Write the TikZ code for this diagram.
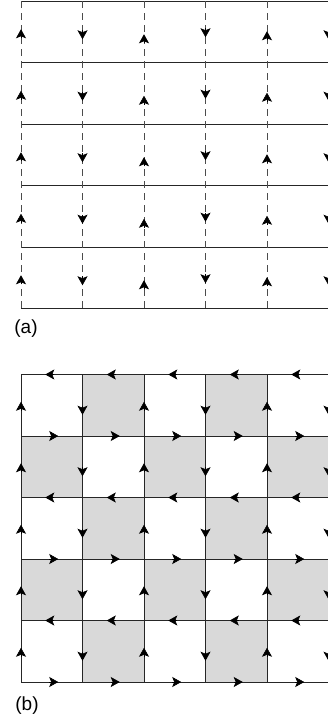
\documentclass[tikz,border=0pt]{standalone}
\usepackage{fontspec}
\setmainfont{Liberation Sans}
\usetikzlibrary{arrows.meta}
\definecolor{cellgray}{RGB}{217,217,217}
\begin{document}
\begin{tikzpicture}[x=1pt,y=-1pt,
  gridline/.style={line width=0.9pt, draw=black!85},
  dashline/.style={line width=0.9pt, draw=black!70, dash pattern=on 7pt off 5pt},
  head/.style={-{Stealth[length=9pt,width=10pt,inset=2pt]}, line width=0.6pt, black},
  lab/.style={font=\fontsize{19}{22}\selectfont, inner sep=0pt}]
\useasboundingbox (0,0) rectangle (328,723);
% ---------- panel (a) ----------
\foreach \j in {0,...,5}
  \draw[gridline] (21,{1+61.5*\j}) -- (332,{1+61.5*\j});
\foreach \i in {0,...,5}
  \draw[dashline] ({21+61.5*\i},1) -- ({21+61.5*\i},308.5);
\foreach \i/\off in {0/2,1/3,2/7,3/1,4/4,5/3}
  \foreach \j in {0,...,4} {
    \pgfmathsetmacro\s{ifthenelse(mod(\i,2)==0,-1,1)}
    \pgfmathsetmacro\xx{21+61.5*\i}
    \pgfmathsetmacro\yc{1+61.5*\j+30.75+\off}
    \draw[head] (\xx,{\yc-\s*4.5}) -- (\xx,{\yc+\s*4.5});
  }
\node[lab] (la) at (26,329) {(a)};
% ---------- panel (b) ----------
\foreach \i in {0,...,5}
  \foreach \j in {0,...,4} {
    \ifodd\numexpr\i+\j\relax
      \fill[cellgray] ({21+61.5*\i},{374.5+61.5*\j}) rectangle ++(61.5,61.5);
    \fi
  }
\foreach \j in {0,...,5}
  \draw[gridline] (21,{374.5+61.5*\j}) -- (332,{374.5+61.5*\j});
\foreach \i in {0,...,5}
  \draw[gridline] ({21+61.5*\i},374.5) -- ({21+61.5*\i},682);
% horizontal arrows
\foreach \j in {0,...,5}
  \foreach \i in {0,...,4} {
    \pgfmathsetmacro\s{ifthenelse(mod(\j,2)==0,-1,1)}
    \pgfmathsetmacro\yy{374.5+61.5*\j}
    \pgfmathsetmacro\xc{21+61.5*\i+30.75+2*\s}
    \draw[head] ({\xc-\s*4.5},\yy) -- ({\xc+\s*4.5},\yy);
  }
% vertical arrows
\foreach \i in {0,...,5}
  \foreach \j in {0,...,4} {
    \pgfmathsetmacro\s{ifthenelse(mod(\i,2)==0,-1,1)}
    \pgfmathsetmacro\off{ifthenelse(mod(\i,2)==0,1,5)}
    \pgfmathsetmacro\xx{21+61.5*\i}
    \pgfmathsetmacro\yc{374.5+61.5*\j+30.75+\off}
    \draw[head] (\xx,{\yc-\s*4.5}) -- (\xx,{\yc+\s*4.5});
  }
\node[lab] (lb) at (27,706) {(b)};
\end{tikzpicture}
\end{document}
